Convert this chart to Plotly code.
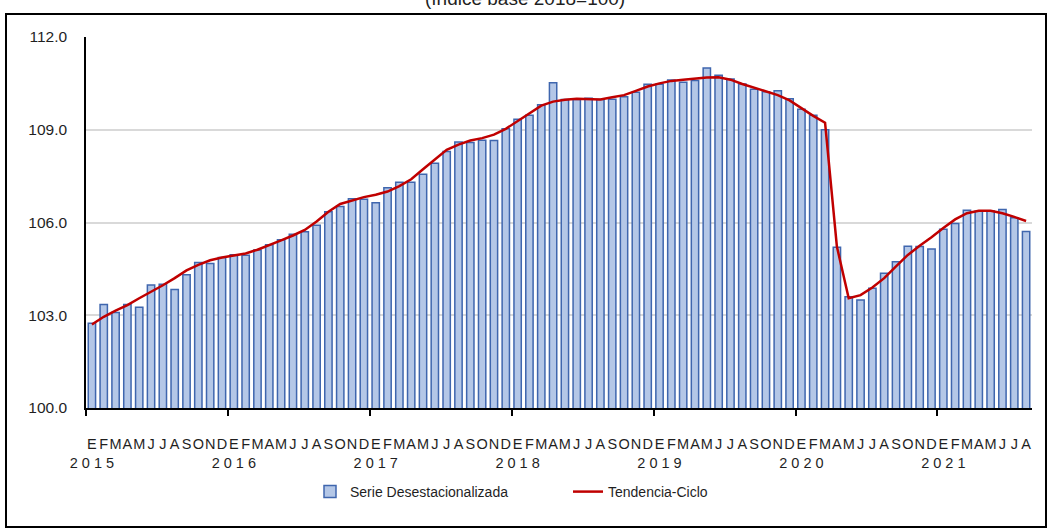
import plotly.graph_objects as go

months = ["E", "F", "M", "A", "M", "J", "J", "A", "S", "O", "N", "D"]
years = ["2015", "2016", "2017", "2018", "2019", "2020", "2021"]

serie = [
    102.74, 103.35, 103.09, 103.35, 103.26, 103.98, 104.00, 103.83, 104.31, 104.71, 104.67, 104.87,
    104.96, 104.94, 105.11, 105.28, 105.44, 105.62, 105.70, 105.91, 106.35, 106.52, 106.77, 106.75,
    106.64, 107.12, 107.30, 107.30, 107.56, 107.92, 108.30, 108.60, 108.59, 108.66, 108.65, 109.03,
    109.34, 109.47, 109.81, 110.52, 109.98, 109.98, 110.02, 109.98, 109.99, 110.07, 110.21, 110.47,
    110.47, 110.61, 110.54, 110.59, 111.00, 110.76, 110.64, 110.48, 110.31, 110.23, 110.26, 110.00,
    109.66, 109.47, 109.00, 105.20, 103.60, 103.49, 103.87, 104.36, 104.73, 105.23, 105.22, 105.14,
    105.78, 105.97, 106.40, 106.36, 106.37, 106.42, 106.15, 105.71,
]

tendencia = [
    102.70, 102.95, 103.15, 103.33, 103.55, 103.75, 103.97, 104.20, 104.45, 104.63, 104.78, 104.87,
    104.93, 105.00, 105.12, 105.26, 105.42, 105.58, 105.76, 106.03, 106.35, 106.60, 106.72, 106.82,
    106.90, 107.00, 107.18, 107.40, 107.72, 108.05, 108.35, 108.52, 108.65, 108.73, 108.84, 109.03,
    109.28, 109.55, 109.78, 109.91, 109.97, 110.00, 110.00, 109.98, 110.05, 110.12, 110.26, 110.40,
    110.50, 110.58, 110.62, 110.66, 110.69, 110.70, 110.62, 110.48, 110.36, 110.25, 110.12, 109.95,
    109.70, 109.45, 109.23, 105.22, 103.55, 103.65, 103.90, 104.20, 104.58, 104.95, 105.25, 105.52,
    105.82, 106.10, 106.30, 106.38, 106.38, 106.30, 106.18, 106.05,
]

n = len(serie)
x = list(range(n))
month_labels = [months[i % 12] for i in range(n)]
year_pos = [12 * k for k in range(len(years))]
year_text = [" ".join(y) for y in years]
year_bounds = [12 * k - 0.5 for k in range(len(years))]

FONT = "Liberation Sans, Arial, sans-serif"
TXT = "#1F1F1F"

fig = go.Figure()
fig.add_trace(go.Bar(
    x=x, y=serie, name="Serie Desestacionalizada",
    marker=dict(color="#B4C7E7", line=dict(color="#3F66AE", width=1.5)),
    width=0.62,
))
fig.add_trace(go.Scatter(
    x=x, y=tendencia, name="Tendencia-Ciclo", mode="lines",
    line=dict(color="#C00000", width=2.5),
    xaxis="x2",
))

W, H = 1052, 531
L, R, T, B = 86, 20, 37, 123
pw, ph = W - L - R, H - T - B

def px_x(p):
    return (p - L) / pw

def px_y(p):
    return (H - B - p) / ph

fig.update_layout(
    width=W, height=H,
    margin=dict(l=L, r=R, t=T, b=B),
    paper_bgcolor="white", plot_bgcolor="white",
    font=dict(family=FONT, color=TXT, size=14),
    showlegend=True,
    legend=dict(orientation="h", x=px_x(310), xanchor="left", y=px_y(492), yanchor="middle",
                font=dict(size=14, color=TXT), bgcolor="rgba(0,0,0,0)", entrywidth=213),
    bargap=0.4,
    xaxis=dict(
        range=[-0.5, n - 0.5], tickmode="array", tickvals=x, ticktext=month_labels,
        ticks="", showline=True, linecolor="black", linewidth=1.5, showgrid=False,
        zeroline=False, tickfont=dict(size=14.5, color=TXT), ticklabelstandoff=22,
        tickangle=0,
        minor=dict(tickmode="array", tickvals=year_bounds, ticks="outside", ticklen=6,
                   tickwidth=1.5, tickcolor="black", showgrid=False),
    ),
    xaxis2=dict(
        range=[-0.5, n - 0.5], overlaying="x", anchor="y", side="bottom",
        tickmode="array", tickvals=year_pos, ticktext=year_text, ticks="",
        showline=False, showgrid=False, zeroline=False,
        tickfont=dict(size=14.5, color=TXT), ticklabelstandoff=44, tickangle=0,
    ),
    yaxis=dict(
        range=[100, 112], tickmode="array", tickvals=[100, 103, 106, 109, 112],
        tickformat=".1f", showgrid=True, gridcolor="#D9D9D9", gridwidth=1.5,
        showline=True, linecolor="black", linewidth=1.5, ticks="", zeroline=False,
        tickfont=dict(size=15.5, color=TXT), ticklabelstandoff=14,
    ),
    shapes=[dict(type="rect", xref="paper", yref="paper",
                 x0=px_x(6), x1=px_x(1046), y0=px_y(527), y1=px_y(14),
                 line=dict(color="black", width=2), fillcolor="rgba(0,0,0,0)", layer="above")],
    annotations=[dict(text="(índice base 2018=100)", xref="paper", yref="paper",
                      x=px_x(525), y=px_y(-2), xanchor="center", yanchor="middle",
                      showarrow=False, font=dict(size=19, color=TXT))],
)

fig.write_html("out.html", config={"displayModeBar": False},
               post_script="document.body.style.margin='0px';")
